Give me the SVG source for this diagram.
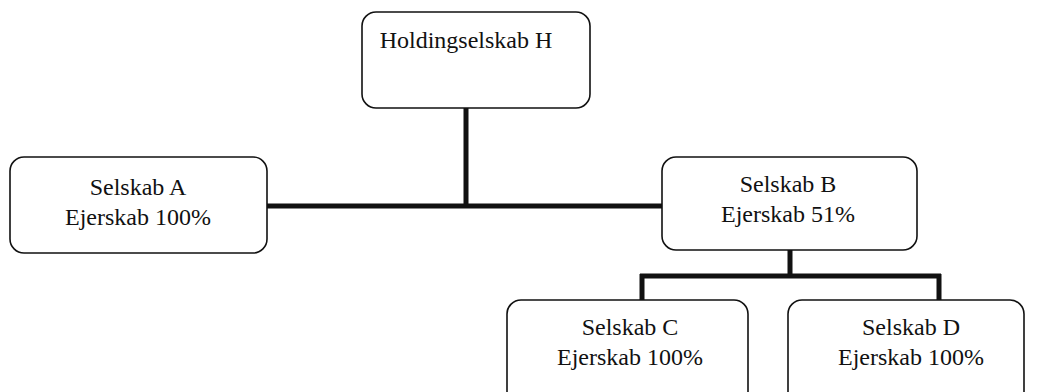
<svg xmlns="http://www.w3.org/2000/svg" width="1059" height="392" viewBox="0 0 1059 392">
<style>
.box{fill:#fff;stroke:#111;stroke-width:1.6}
.t{font-family:"Liberation Serif",serif;font-size:24px;fill:#111;text-anchor:middle}
.c{stroke:#111;stroke-width:5;fill:none}
</style>
<rect width="1059" height="392" fill="#fff"/>
<g id="connectors">
<path class="c" d="M466 108V206M267 206H662"/>
<path class="c" d="M790 250V276M640 276H941M642 274V301M939 274V301"/>
</g>
<g id="nodeH"><rect class="box" x="362" y="12" width="228" height="96" rx="14"/><text class="t" x="466" y="48">Holdingselskab H</text></g>
<g id="nodeA"><rect class="box" x="10" y="157" width="257" height="96" rx="14"/><text class="t" x="138" y="195">Selskab A</text><text class="t" x="138" y="225">Ejerskab 100%</text></g>
<g id="nodeB"><rect class="box" x="662" y="157" width="255" height="93" rx="14"/><text class="t" x="788" y="192">Selskab B</text><text class="t" x="788" y="222">Ejerskab 51%</text></g>
<g id="nodeC"><rect class="box" x="507" y="300" width="241" height="110" rx="14"/><text class="t" x="630" y="335">Selskab C</text><text class="t" x="630" y="365">Ejerskab 100%</text></g>
<g id="nodeD"><rect class="box" x="788" y="300" width="236" height="110" rx="14"/><text class="t" x="911" y="335">Selskab D</text><text class="t" x="911" y="365">Ejerskab 100%</text></g>
</svg>
